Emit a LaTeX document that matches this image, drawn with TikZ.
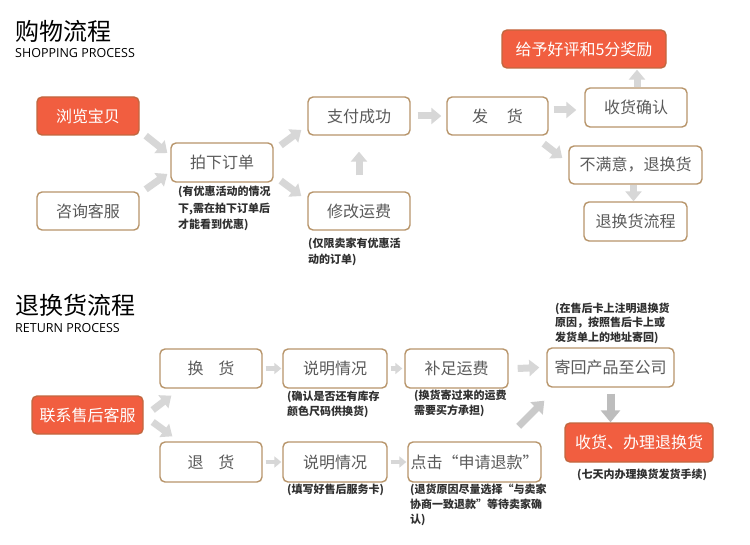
\documentclass[tikz,border=0pt]{standalone}
\usepackage{fontspec}
\setmainfont{Noto Sans CJK SC}
\newfontfamily\enfont{Open Sans}
\usetikzlibrary{arrows.meta}
\definecolor{boxline}{HTML}{B8956B}
\definecolor{redfill}{HTML}{F15E40}
\definecolor{redline}{HTML}{C2673F}
\definecolor{boxtext}{HTML}{5A5A5A}
\definecolor{notetext}{HTML}{303030}
\definecolor{arrowgray}{HTML}{D7D7D7}
\definecolor{arrowmid}{HTML}{CACACA}
\definecolor{arrowdark}{HTML}{BDBDBD}
\begin{document}
\begin{tikzpicture}[x=1pt,y=-1pt,
  box/.style={draw=boxline, line width=1.4pt, rounded corners=5pt, fill=white,
    text=boxtext, font=\fontsize{16}{18}\selectfont, minimum width=#1,
    minimum height=38pt, inner sep=0pt},
  box/.default=102pt,
  redbox/.style={box=#1, fill=redfill, draw=redline, text=white},
  redbox/.default=102pt,
  note/.style={anchor=north west, align=left, inner sep=0pt, text=notetext,
    font=\fontsize{11}{15.5}\selectfont\bfseries},
  title/.style={anchor=west, inner sep=0pt, text=black, font=\fontsize{24}{26}\selectfont},
  subtitle/.style={anchor=west, inner sep=0pt, text=black, font=\enfont\fontsize{12.5}{14}\selectfont},
  garrow/.style={draw=arrowgray, line width=7pt, -{Triangle[width=16pt,length=10pt]}},
  sarrow/.style={draw=arrowgray, line width=4.5pt, -{Triangle[width=11pt,length=7pt]}},
  marrow/.style={draw=arrowmid, line width=7pt, -{Triangle[width=17pt,length=11pt]}},
  darrow/.style={draw=arrowdark, line width=8pt, -{Triangle[width=19pt,length=12pt]}}
]
\useasboundingbox[fill=white] (0,0) rectangle (750,545);

% ---------- titles ----------
\node[title] (t1) at (15,31.5) {购物流程};
\node[subtitle] (s1) at (15,53.5) {SHOPPING PROCESS};
\node[title] (t2) at (15,305) {退换货流程};
\node[subtitle] (s2) at (15,328) {RETURN PROCESS};

% ---------- shopping process ----------
\node[redbox] (liulan) at (88,116) {浏览宝贝};
\node[box] (zixun) at (88,211) {咨询客服};
\node[box, minimum height=39pt] (paixia) at (222,162.5) {拍下订单};
\node[box] (zhifu) at (359,116) {支付成功};
\node[box] (xiugai) at (359,211) {修改运费};
\node[box=101pt] (fahuo) at (497.5,116) {发\hspace{19pt}货};
\node[redbox=164pt] (haoping) at (584,49) {给予好评和5分奖励};
\node[box, minimum height=39pt] (shouhuo) at (636,107.5) {收货确认};
\node[box=133pt] (bumanyi) at (635.5,165) {不满意，退换货};
\node[box=103pt, minimum height=39pt] (tuihuanlc) at (635.5,221.5) {退换货流程};

\node[note, font=\fontsize{11}{16.5}\selectfont\bfseries] (n1) at (178,186) {(有优惠活动的情况\\下,需在拍下订单后\\才能看到优惠)};
\node[note] (n2) at (308,238) {(仅限卖家有优惠活\\动的订单)};

\draw[garrow] ([shift={(6,0)}]liulan.south east) -- ([shift={(-3,-9.5)}]paixia.west);
\draw[garrow] ([shift={(6,-2)}]zixun.north east) -- ([shift={(-3,11.5)}]paixia.west);
\draw[garrow] ([shift={(7,3)}]paixia.north east) -- ([shift={(-6,14)}]zhifu.west);
\draw[garrow] ([shift={(7,-2)}]paixia.south east) -- ([shift={(-6,-15)}]xiugai.west);
\draw[garrow] ([shift={(0,-16)}]xiugai.north) -- ([shift={(0,16)}]zhifu.south);
\draw[garrow] ([shift={(7,0)}]zhifu.east) -- ([shift={(-5,0)}]fahuo.west);
\draw[garrow] ([shift={(5,-6)}]fahuo.east) -- ([shift={(-8,2.5)}]shouhuo.west);
\draw[garrow] ([shift={(-5,8)}]fahuo.south east) -- ([shift={(-6,-7)}]bumanyi.west);
\draw[garrow] ([shift={(1,0)}]shouhuo.north) -- ([shift={(53,1)}]haoping.south);
\draw[garrow] ([shift={(-2,0)}]bumanyi.south) -- ([shift={(-2,0)}]tuihuanlc.north);

% ---------- return process ----------
\node[redbox=111pt] (lianxi) at (87.5,415) {联系售后客服};
\node[box, minimum height=39pt] (huanhuo) at (211,368.5) {换\hspace{15pt}货};
\node[box, minimum height=40pt] (tuihuo) at (211,462) {退\hspace{15pt}货};
\node[box=104pt, minimum height=39pt] (shuoming1) at (335,368.5) {说明情况};
\node[box=104pt, minimum height=40pt] (shuoming2) at (335,462) {说明情况};
\node[box=103pt, minimum height=39pt] (buzu) at (456.5,368.5) {补足运费};
\node[box=133pt, minimum height=40pt] (dianji) at (474.5,462) {点击“申请退款”};
\node[box=127pt, minimum height=39pt] (jihui) at (610.5,367.5) {寄回产品至公司};
\node[redbox=148pt, minimum height=39pt] (banli) at (639,442.5) {收货、办理退换货};

\node[note] (n3) at (287,390.5) {(确认是否还有库存\\颜色尺码供换货)};
\node[note] (n4) at (287,484) {(填写好售后服务卡)};
\node[note] (n5) at (414,389.5) {(换货寄过来的运费\\需要买方承担)};
\node[note, font=\fontsize{11}{15}\selectfont\bfseries] (n6) at (410,483.5) {(退货原因尽量选择“与卖家\\协商一致退款”等待卖家确\\认)};
\node[note, font=\fontsize{11}{14.5}\selectfont\bfseries] (n7) at (555,302.5) {(在售后卡上注明退换货\\原因，按照售后卡上或\\发货单上的地址寄回)};
\node[note, anchor=center] (n8) at (642,475) {(七天内办理换货发货手续)};

\draw[garrow] ([shift={(9,-5)}]lianxi.east) -- ([shift={(12,7)}]huanhuo.south west);
\draw[garrow] ([shift={(9,7)}]lianxi.east) -- ([shift={(13,-5)}]tuihuo.north west);
\draw[sarrow] ([shift={(3,0)}]huanhuo.east) -- ([shift={(-1,0)}]shuoming1.west);
\draw[sarrow] ([shift={(3,0)}]tuihuo.east) -- ([shift={(-1,0)}]shuoming2.west);
\draw[sarrow] ([shift={(3,0)}]shuoming1.east) -- ([shift={(-2,0)}]buzu.west);
\draw[sarrow] ([shift={(3,0)}]shuoming2.east) -- ([shift={(-1,0)}]dianji.west);
\draw[garrow] ([shift={(9,0)}]buzu.east) -- ([shift={(-7,0)}]jihui.west);
\draw[marrow] ([shift={(-23,-15)}]dianji.north east) -- ([shift={(-2,13)}]jihui.south west);
\draw[darrow] ([shift={(0,6)}]jihui.south) -- (jihui.south |- banli.north);
\end{tikzpicture}
\end{document}
